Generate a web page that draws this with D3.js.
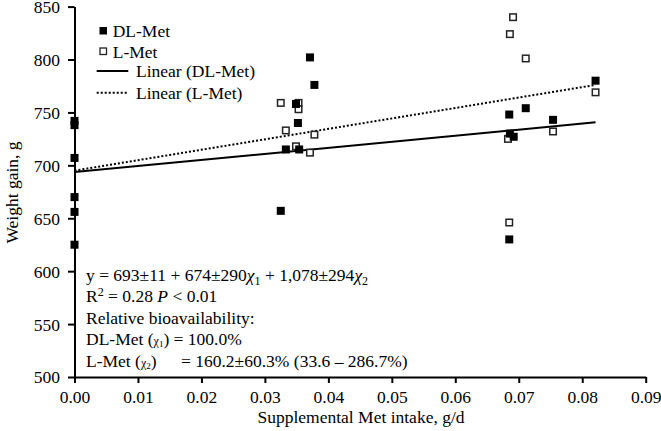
<!DOCTYPE html>
<html><head><meta charset="utf-8">
<script src="https://cdn.jsdelivr.net/npm/d3@7"></script>
<style>
html,body{margin:0;padding:0;background:#fff;}
svg{display:block;font-family:"Liberation Serif","Times New Roman",serif;}
</style></head>
<body><svg id="c" width="661" height="431"></svg>
<script>
// ---- data ----
const dlX = [0,0,0,0,0,0, 0.0371,0.0378,0.0349,0.0352,0.0333,0.0354,0.0325, 0.0821,0.0711,0.0685,0.0754,0.0686,0.0692,0.0685];
const dlY = [742,738,707,670,656,625, 802,776,758,740,715,715,657, 780,754,748,743,730,727,630];
const lX  = [0.0325,0.0353,0.0353,0.0333,0.0378,0.0349,0.0371, 0.0691,0.0686,0.0711,0.0821,0.0754,0.0683,0.0685];
const lY  = [759,759,753,733,729,718,712, 840,824,801,769,732,725,646];
const trendX  = [0, 0.0821];
const dlTrend = [693.6, 740.7];
const lTrend  = [695, 776];
const xTicks = [0,0.01,0.02,0.03,0.04,0.05,0.06,0.07,0.08,0.09];
const yTicks = [500,550,600,650,700,750,800,850];
const seriesNames = ["DL-Met","L-Met","Linear (DL-Met)","Linear (L-Met)"];
const xTitle = "Supplemental Met intake, g/d";
const yTitle = "Weight gain, g";

const svg = d3.select("#c");
const FS = 17.5;
const x = d3.scaleLinear().domain([0,0.09]).range([74.5,645.7]);
const y = d3.scaleLinear().domain([500,850]).range([377,6.6]);

// axes
const gx = svg.append("g").attr("transform","translate(0,377)")
  .call(d3.axisBottom(x).tickValues(xTicks).tickFormat(d3.format(".2f")).tickSize(6).tickSizeOuter(0).tickPadding(7.8));
const gy = svg.append("g").attr("transform","translate(74.5,0)")
  .call(d3.axisLeft(y).tickValues(yTicks).tickFormat(d3.format("d")).tickSize(6.5).tickSizeOuter(0).tickPadding(8));
[gx,gy].forEach(g=>{
  g.select(".domain").attr("stroke","#000").attr("stroke-width",2);
  g.selectAll(".tick line").attr("stroke","#000").attr("stroke-width",2);
  g.selectAll(".tick text").attr("fill","#000").style("font-size",FS+"px").style("font-family",'"Liberation Serif",serif');
});
gy.selectAll(".tick text").attr("dy","0.34em");

// titles
svg.append("text").attr("x",361).attr("y",423.3).attr("text-anchor","middle")
  .style("font-size",FS+"px").text(xTitle);
svg.append("text").attr("transform","translate(18,192.5) rotate(-90)").attr("text-anchor","middle")
  .style("font-size",FS+"px").text(yTitle);

// trend lines
const line = d3.line().x(d=>x(d[0])).y(d=>y(d[1]));
svg.append("path").datum(trendX.map((v,i)=>[v,dlTrend[i]])).attr("d",line)
  .attr("fill","none").attr("stroke","#000").attr("stroke-width",2);
svg.append("path").datum(trendX.map((v,i)=>[v,lTrend[i]])).attr("d",line)
  .attr("fill","none").attr("stroke","#000").attr("stroke-width",2).attr("stroke-dasharray","2,2");

// markers
const S = 8;
svg.append("g").selectAll("rect").data(lX.map((v,i)=>[v,lY[i]])).join("rect")
  .attr("x",d=>x(d[0])-S/2+0.75).attr("y",d=>y(d[1])-S/2+0.75).attr("width",S-1.5).attr("height",S-1.5)
  .attr("fill","#fff").attr("stroke","#222").attr("stroke-width",1.5);
svg.append("g").selectAll("rect").data(dlX.map((v,i)=>[v,dlY[i]])).join("rect")
  .attr("x",d=>x(d[0])-S/2).attr("y",d=>y(d[1])-S/2).attr("width",S).attr("height",S)
  .attr("fill","#000");

// legend
const lg = svg.append("g");
lg.append("rect").attr("x",99.5).attr("y",27).attr("width",7.5).attr("height",7.5).attr("fill","#000");
lg.append("rect").attr("x",100).attr("y",48).attr("width",6.5).attr("height",6.5).attr("fill","#fff").attr("stroke","#222").attr("stroke-width",1.3);
lg.append("line").attr("x1",96.7).attr("x2",128.3).attr("y1",71).attr("y2",71).attr("stroke","#000").attr("stroke-width",2);
lg.append("line").attr("x1",96.7).attr("x2",128.3).attr("y1",92.7).attr("y2",92.7).attr("stroke","#000").attr("stroke-width",2).attr("stroke-dasharray","2,2");
const lgPos = [[112.7,36.5],[112.7,57.5],[136,77],[136,98.5]];
seriesNames.forEach((n,i)=>lg.append("text").attr("x",lgPos[i][0]).attr("y",lgPos[i][1]).style("font-size",FS+"px").text(n));

// annotation
const ann = svg.append("g").style("font-size",FS+"px");
const L = 86, b0 = 280.7, dy = 21.5;
let t = ann.append("text").attr("x",L).attr("y",b0);
t.append("tspan").text("y = 693±11 + 674±290");
t.append("tspan").style("font-style","italic").text("χ");
t.append("tspan").attr("dy",4).style("font-size","12px").text("1");
t.append("tspan").attr("dy",-4).text(" + 1,078±294");
t.append("tspan").style("font-style","italic").text("χ");
t.append("tspan").attr("dy",4).style("font-size","12px").text("2");

t = ann.append("text").attr("x",L).attr("y",b0+dy);
t.append("tspan").text("R");
t.append("tspan").attr("dy",-6).style("font-size","12px").text("2");
t.append("tspan").attr("dy",6).text(" = 0.28 ");
t.append("tspan").style("font-style","italic").text("P");
t.append("tspan").text(" < 0.01");

ann.append("text").attr("x",L).attr("y",b0+2*dy).text("Relative bioavailability:");

t = ann.append("text").attr("x",L).attr("y",b0+3*dy);
t.append("tspan").text("DL-Met (");
t.append("tspan").style("font-size","12px").text("χ");
t.append("tspan").attr("dy",2).style("font-size","9px").text("1");
t.append("tspan").attr("dy",-2).text(") = 100.0%");

t = ann.append("text").attr("x",L).attr("y",b0+4*dy);
t.append("tspan").text("L-Met (");
t.append("tspan").style("font-size","12px").text("χ");
t.append("tspan").attr("dy",2).style("font-size","9px").text("2");
t.append("tspan").attr("dy",-2).text(")");
t.append("tspan").attr("x",181).text("= 160.2±60.3% (33.6 – 286.7%)");
</script></body></html>
